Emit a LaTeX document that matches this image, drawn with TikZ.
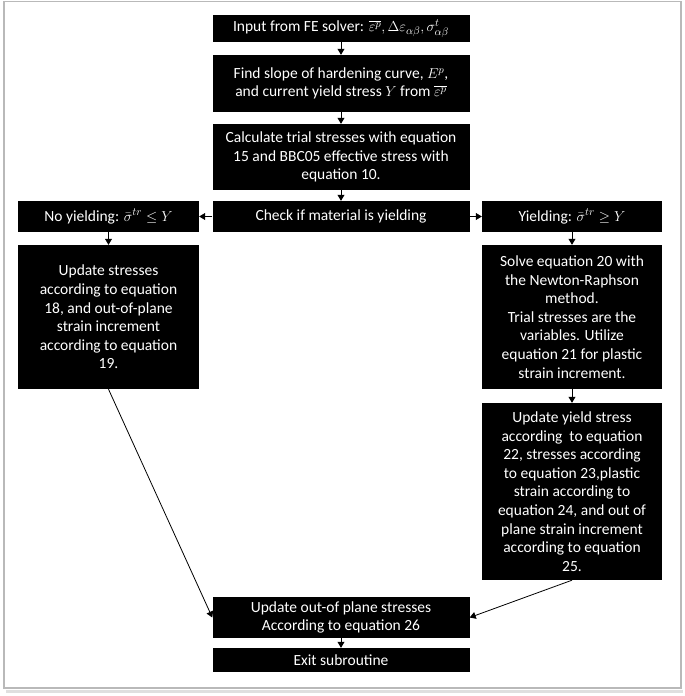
\documentclass[tikz,border=0pt]{standalone}
\usepackage{fontspec}
\setmainfont{Carlito}
\usetikzlibrary{arrows.meta}

\tikzset{
  blk/.style={fill=black, text=white, align=center, inner sep=0pt,
    font=\fontsize{15.5}{18.6}\selectfont},
}

\begin{document}
\begin{tikzpicture}[x=1pt, y=-1pt, >={Triangle[length=6pt,width=7pt]}]
        \useasboundingbox (0,0) rectangle (685,696);
        % page frame
        \draw[gray!25, line width=3pt] (6,691) -- (683,691);
        \draw[gray!55, line width=1.5pt] (4,1.5) rectangle (681,688);

        \node[blk, minimum width=257pt, minimum height=27pt] (in) at (341,28.5)
            {Input from FE solver: $\overline{\varepsilon^p}, \Delta\varepsilon_{\alpha\beta}, \sigma^t_{\alpha\beta}$};
        \node[blk, minimum width=257pt, minimum height=57pt] (slope) at (341,83.5)
            {Find slope of hardening curve, $E^p$,\\ and current yield stress $Y$ from $\overline{\varepsilon^p}$};
        \node[blk, minimum width=257pt, minimum height=66pt] (trial) at (341,157)
            {Calculate trial stresses with equation\\ 15 and BBC05 effective stress with\\ equation 10.};
        \node[blk, minimum width=257pt, minimum height=31pt] (check) at (341,216.5)
            {Check if material is yielding};
        \node[blk, minimum width=181pt, minimum height=31pt] (noy) at (108.5,216.5)
            {No yielding: $\bar{\sigma}^{tr} \leq Y$};
        \node[blk, minimum width=180pt, minimum height=31pt] (yes) at (572,216.5)
            {Yielding: $\bar{\sigma}^{tr} \geq Y$};
        \node[blk, minimum width=181pt, minimum height=144pt] (elastic) at (108.5,317)
            {Update stresses\\ according to equation\\ 18, and out-of-plane\\ strain increment\\ according to equation\\ 19.};
        \node[blk, minimum width=180pt, minimum height=144pt] (solve) at (572,317)
            {Solve equation 20 with\\ the Newton-Raphson\\ method.\\ Trial stresses are the\\ variables. Utilize\\ equation 21 for plastic\\ strain increment.};
        \node[blk, minimum width=180pt, minimum height=177pt] (plastic) at (572,491.5)
            {Update yield stress\\ according\ \ to equation\\ 22, stresses according\\ to equation 23,plastic\\ strain according to\\ equation 24, and out of\\ plane strain increment\\ according to equation\\ 25.};
        \node[blk, minimum width=257pt, minimum height=41pt] (oop) at (341,617.5)
            {Update out-of plane stresses\\ According to equation 26};
        \node[blk, minimum width=257pt, minimum height=24pt] (exit) at (341,660)
            {Exit subroutine};

        \draw[->, line width=0.8pt] (in) -- (slope);
        \draw[->, line width=0.8pt] (slope) -- (trial);
        \draw[->, line width=0.8pt] (trial) -- (check);
        \draw[->, line width=0.8pt] (check) -- (noy);
        \draw[->, line width=0.8pt] (check) -- (yes);
        \draw[->, line width=0.8pt] (noy) -- (elastic);
        \draw[->, line width=0.8pt] (yes) -- (solve);
        \draw[->, line width=0.8pt] (solve) -- (plastic);
        \draw[->, line width=0.8pt] (elastic.south) -- (oop.west);
        \draw[->, line width=0.8pt] (plastic.south) -- (oop.east);
        \draw[->, line width=0.8pt] (oop) -- (exit);
    \end{tikzpicture}
\end{document}
